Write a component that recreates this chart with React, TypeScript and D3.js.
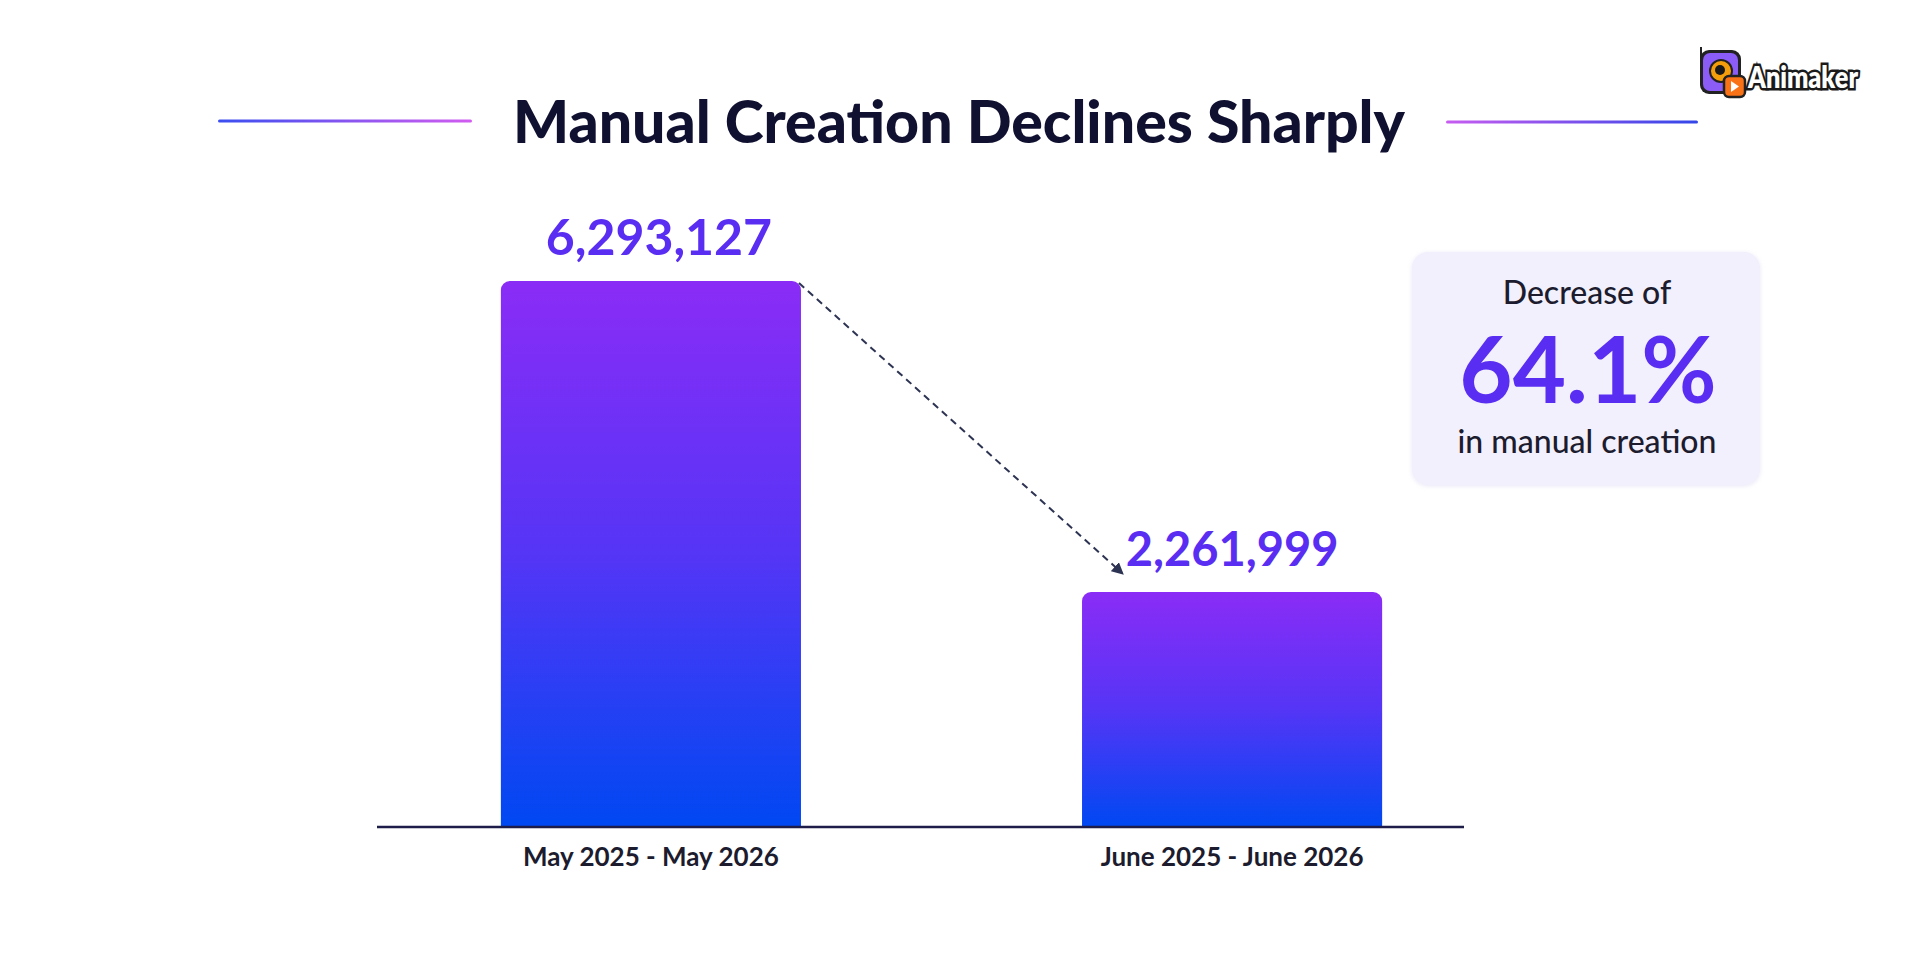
import React from "react";
import * as d3 from "d3";

// chart data
const categories = ["May 2025 - May 2026", "June 2025 - June 2026"];
const values = [6293127, 2261999];
const valueLabels = ["6,293,127", "2,261,999"];
const calloutLines = ["Decrease of", "64.1%", "in manual creation"];
const title = "Manual Creation Declines Sharply";

const W = 1918;
const H = 960;
const FONT = "Lato, 'Open Sans', sans-serif";

const App: React.FC = () => {
  const baseline = 826;

  const xScale = d3
    .scaleBand<string>()
    .domain(categories)
    .range([398, 1485])
    .paddingInner(0.4836)
    .paddingOuter(0.177);

  // the picture's bars do not start from zero; keep the same floor
  const yScale = d3
    .scaleLinear()
    .domain([-770000, d3.max(values) as number])
    .range([baseline, 281]);

  const bw = xScale.bandwidth();
  const r = 9;

  const barPath = (x: number, y: number, w: number, h: number) => {
    const p = d3.path();
    p.moveTo(x, y + h);
    p.lineTo(x, y + r);
    p.arcTo(x, y, x + r, y, r);
    p.lineTo(x + w - r, y);
    p.arcTo(x + w, y, x + w, y + r, r);
    p.lineTo(x + w, y + h);
    p.closePath();
    return p.toString();
  };

  const x0 = (xScale(categories[0]) as number) + bw;
  const y0 = yScale(values[0]);
  const x1 = (xScale(categories[1]) as number) + 40;
  const y1 = yScale(values[1]) - 19;

  return (
    <svg
      width={W}
      height={H}
      viewBox={`0 0 ${W} ${H}`}
      style={{ position: "absolute", left: 0, top: 0, background: "#ffffff" }}
    >
      <defs>
        <linearGradient id="barGrad" x1="0" y1="0" x2="0" y2="1">
          <stop offset="0%" stopColor="#8a2cf6" />
          <stop offset="50%" stopColor="#5535f6" />
          <stop offset="100%" stopColor="#0048f2" />
        </linearGradient>
        <linearGradient id="lineL" x1="0" y1="0" x2="1" y2="0">
          <stop offset="0%" stopColor="#3b4ef0" />
          <stop offset="100%" stopColor="#d25cf0" />
        </linearGradient>
        <linearGradient id="lineR" x1="0" y1="0" x2="1" y2="0">
          <stop offset="0%" stopColor="#c75cf0" />
          <stop offset="100%" stopColor="#3346e8" />
        </linearGradient>
        <marker
          id="arrow"
          viewBox="0 0 10 10"
          refX="8"
          refY="5"
          markerWidth="6"
          markerHeight="6"
          orient="auto"
        >
          <path d="M0,0 L10,5 L0,10 z" fill="#2d3352" />
        </marker>
        <filter id="soft" x="-10%" y="-10%" width="120%" height="120%">
          <feDropShadow dx="0" dy="1" stdDeviation="2" floodColor="#c8c4e8" floodOpacity="0.4" />
        </filter>
      </defs>

      {/* title with side rules */}
      <rect x={218} y={119.5} width={254} height={3} rx={1.5} fill="url(#lineL)" />
      <rect x={1446} y={120.5} width={252} height={3} rx={1.5} fill="url(#lineR)" />
      <text
        x={959}
        y={143}
        textAnchor="middle"
        fontFamily={FONT}
        fontWeight={900}
        fontSize={59}
        fill="#101030"
      >
        {title}
      </text>

      {/* bars */}
      {values.map((v, i) => {
        const x = xScale(categories[i]) as number;
        const y = yScale(v);
        return (
          <g key={categories[i]}>
            <path d={barPath(x, y, bw, baseline - y)} fill="url(#barGrad)" />
            <text
              x={x + bw / 2 + (i === 0 ? 8 : 0)}
              y={y - 26}
              textAnchor="middle"
              fontFamily={FONT}
              fontWeight={700}
              fontSize={i === 0 ? 50 : 47}
              fill="#5a2ef2"
            >
              {valueLabels[i]}
            </text>
            <text
              x={x + bw / 2}
              y={866}
              textAnchor="middle"
              fontFamily={FONT}
              fontWeight={700}
              fontSize={26}
              fill="#1c1c2e"
            >
              {categories[i]}
            </text>
          </g>
        );
      })}

      {/* axis line */}
      <line x1={377} x2={1464} y1={baseline + 1} y2={baseline + 1} stroke="#1e1c48" strokeWidth={2.5} />

      {/* dashed arrow */}
      <line
        x1={x0 - 2}
        y1={y0 + 2}
        x2={x1}
        y2={y1}
        stroke="#2d3352"
        strokeWidth={2}
        strokeDasharray="7 5"
        markerEnd="url(#arrow)"
      />

      {/* callout box */}
      <rect x={1412} y={252} width={348} height={233} rx={16} fill="#f2f0fd" filter="url(#soft)" />
      <text x={1587} y={304} textAnchor="middle" fontFamily={FONT} fontWeight={500} fontSize={32} fill="#1c1c2e">
        {calloutLines[0]}
      </text>
      <text x={1588} y={403} textAnchor="middle" fontFamily={FONT} fontWeight={700} fontSize={92} fill="#5a2ef2">
        {calloutLines[1]}
      </text>
      <text x={1587} y={453} textAnchor="middle" fontFamily={FONT} fontWeight={500} fontSize={32} fill="#1c1c2e">
        {calloutLines[2]}
      </text>

      {/* logo */}
      <g>
        <line x1={1701} y1={47} x2={1701} y2={62} stroke="#222" strokeWidth={2} />
        <rect x={1700} y={50} width={41} height={44} rx={9} fill="#222" />
        <rect x={1703} y={53} width={35} height={38} rx={7} fill="#8b5cf6" />
        <circle cx={1721} cy={71} r={11} fill="#f59e0b" stroke="#222" strokeWidth={2} />
        <circle cx={1720} cy={70} r={5} fill="#1a1a1a" />
        <rect x={1724} y={76} width={21} height={21} rx={5} fill="#f97316" stroke="#222" strokeWidth={2.5} />
        <path d="M1731,81 L1739,86.5 L1731,92 z" fill="#fff" />
        <text
          x={1748}
          y={88}
          fontFamily={FONT}
          fontWeight={800}
          fontSize={31}
          fill="#fff"
          stroke="#1a1a1a"
          strokeWidth={5}
          paintOrder="stroke"
          textLength={110}
          lengthAdjust="spacingAndGlyphs"
        >
          Animaker
        </text>
      </g>
    </svg>
  );
};

export default App;
